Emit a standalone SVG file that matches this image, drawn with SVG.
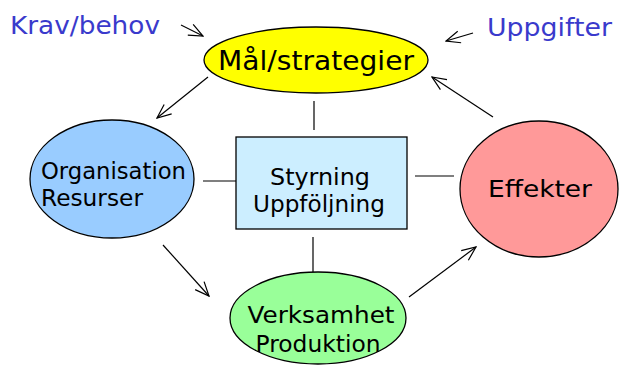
<svg xmlns="http://www.w3.org/2000/svg" width="620" height="365" viewBox="0 0 620 365">
<defs>
<marker id="arr" viewBox="0 0 16 16" refX="15" refY="8" markerWidth="16" markerHeight="16" markerUnits="userSpaceOnUse" orient="auto">
<polyline points="1,2 15,8 1,14" fill="none" stroke="#000" stroke-width="1.2"/>
</marker>
<style>
.n{stroke:#000;stroke-width:1.3}
.t{font-family:"DejaVu Sans","Liberation Sans",sans-serif;fill:#000}
.b{font-family:"DejaVu Sans","Liberation Sans",sans-serif;fill:#3a3acc}
.c{stroke:#000;stroke-width:1.2;fill:none}
.a{stroke:#000;stroke-width:1.2;fill:none;marker-end:url(#arr)}
</style>
</defs>
<rect width="620" height="365" fill="#fff"/>
<g id="labels">
<text class="b" x="10" y="34" font-size="25" textLength="150" lengthAdjust="spacingAndGlyphs">Krav/behov</text>
<text class="b" x="487" y="36" font-size="25" textLength="125" lengthAdjust="spacingAndGlyphs">Uppgifter</text>
</g>
<g id="connectors">
<line class="a" x1="181" y1="25" x2="203" y2="36"/>
<line class="a" x1="473" y1="33" x2="446" y2="41"/>
<line class="a" x1="493" y1="117" x2="432" y2="77"/>
<line class="a" x1="208" y1="77" x2="157" y2="118"/>
<line class="a" x1="163" y1="245" x2="209" y2="296"/>
<line class="a" x1="409" y1="297" x2="476" y2="247"/>
<line class="c" x1="314" y1="101" x2="314" y2="130"/>
<line class="c" x1="203" y1="181" x2="236" y2="181"/>
<line class="c" x1="415" y1="176" x2="454" y2="176"/>
<line class="c" x1="313" y1="237" x2="313" y2="272"/>
</g>
<g id="mal">
<ellipse class="n" cx="316" cy="60" rx="112" ry="33" fill="#ffff00"/>
<text class="t" x="316" y="70" font-size="27" text-anchor="middle" textLength="196" lengthAdjust="spacingAndGlyphs">Mål/strategier</text>
</g>
<g id="org">
<ellipse class="n" cx="112" cy="179" rx="82" ry="59" fill="#99ccff"/>
<text class="t" x="41" y="179" font-size="23" textLength="145" lengthAdjust="spacingAndGlyphs">Organisation</text>
<text class="t" x="41" y="206" font-size="23" textLength="102" lengthAdjust="spacingAndGlyphs">Resurser</text>
</g>
<g id="styr">
<rect class="n" x="236" y="137" width="171" height="92" fill="#cceeff"/>
<text class="t" x="320" y="185" font-size="23" text-anchor="middle" textLength="100" lengthAdjust="spacingAndGlyphs">Styrning</text>
<text class="t" x="319" y="212" font-size="23" text-anchor="middle" textLength="132" lengthAdjust="spacingAndGlyphs">Uppföljning</text>
</g>
<g id="eff">
<ellipse class="n" cx="539" cy="189" rx="79" ry="68" fill="#ff9999"/>
<text class="t" x="540" y="197" font-size="23" text-anchor="middle" textLength="104" lengthAdjust="spacingAndGlyphs">Effekter</text>
</g>
<g id="verk">
<ellipse class="n" cx="318" cy="318" rx="88" ry="46" fill="#99ff99"/>
<text class="t" x="321" y="323" font-size="23" text-anchor="middle" textLength="147" lengthAdjust="spacingAndGlyphs">Verksamhet</text>
<text class="t" x="318" y="352" font-size="23" text-anchor="middle" textLength="125" lengthAdjust="spacingAndGlyphs">Produktion</text>
</g>
</svg>
